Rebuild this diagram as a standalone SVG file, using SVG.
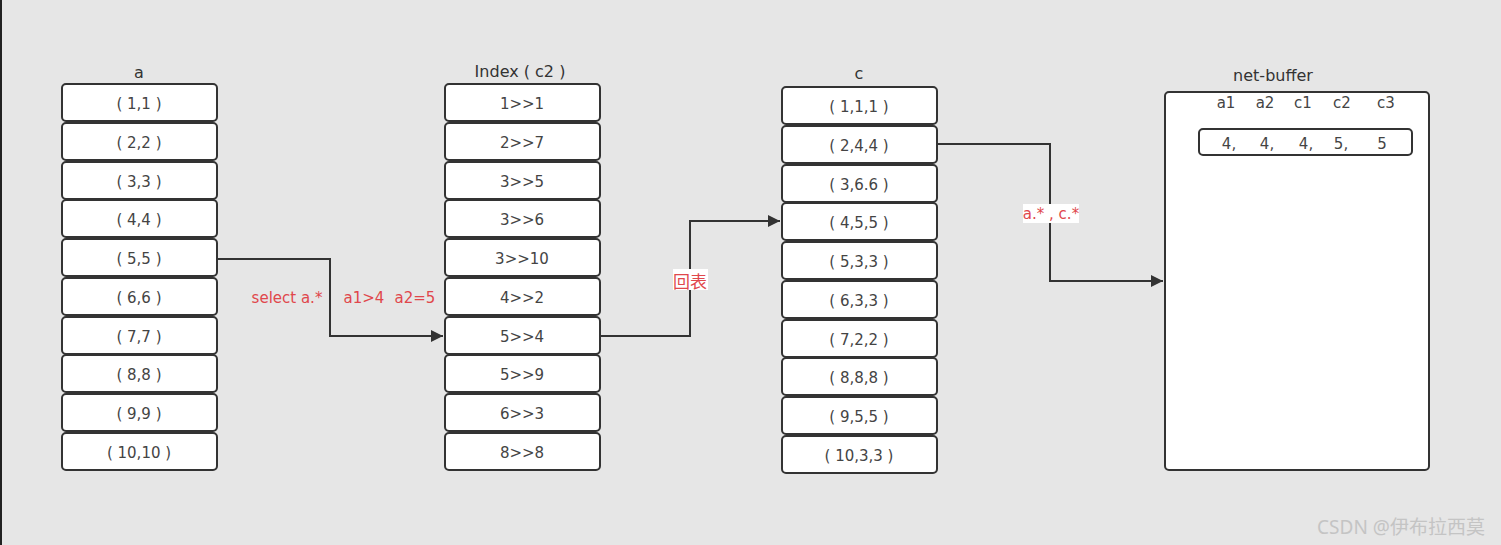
<svg xmlns="http://www.w3.org/2000/svg" width="1501" height="545" viewBox="0 0 1501 545">
<defs>
<style>
.bg{fill:#e6e6e6}
.box{fill:#fff;stroke:#333;stroke-width:2}
.t{font-family:"DejaVu Sans","Noto Sans",sans-serif;font-size:15px;fill:#444;text-anchor:middle;dominant-baseline:central;transform:translateY(1px)}
.ttl{font-family:"DejaVu Sans","Noto Sans",sans-serif;font-size:16px;fill:#333;text-anchor:middle;dominant-baseline:central}
.red{font-family:"DejaVu Sans","Noto Sans CJK SC",sans-serif;font-size:15px;fill:#e0474c;text-anchor:middle;dominant-baseline:central}
.cjk{font-family:"Noto Sans CJK SC",sans-serif;font-size:17px}
.line{fill:none;stroke:#333;stroke-width:2}
.lblbg{fill:#fff}
</style>
<marker id="arr" viewBox="0 0 10 10" refX="10" refY="5" markerWidth="18" markerHeight="12" markerUnits="userSpaceOnUse" orient="auto">
<path d="M0,0 L10,5 L0,10 z" fill="#333"/>
</marker>
</defs>
<rect class="bg" x="0" y="0" width="1501" height="545"/>
<rect x="0" y="0" width="2" height="545" fill="#222"/>

<g id="table-a">
<text class="ttl" x="139" y="72">a</text>
<rect class="box" x="62" y="84" width="155" height="37" rx="4"/><text class="t" x="139" y="103">( 1,1 )</text>
<rect class="box" x="62" y="123" width="155" height="37" rx="4"/><text class="t" x="139" y="142">( 2,2 )</text>
<rect class="box" x="62" y="162" width="155" height="37" rx="4"/><text class="t" x="139" y="181">( 3,3 )</text>
<rect class="box" x="62" y="200" width="155" height="37" rx="4"/><text class="t" x="139" y="219">( 4,4 )</text>
<rect class="box" x="62" y="239" width="155" height="37" rx="4"/><text class="t" x="139" y="258">( 5,5 )</text>
<rect class="box" x="62" y="278" width="155" height="37" rx="4"/><text class="t" x="139" y="297">( 6,6 )</text>
<rect class="box" x="62" y="317" width="155" height="37" rx="4"/><text class="t" x="139" y="336">( 7,7 )</text>
<rect class="box" x="62" y="355" width="155" height="37" rx="4"/><text class="t" x="139" y="374">( 8,8 )</text>
<rect class="box" x="62" y="394" width="155" height="37" rx="4"/><text class="t" x="139" y="413">( 9,9 )</text>
<rect class="box" x="62" y="433" width="155" height="37" rx="4"/><text class="t" x="139" y="452">( 10,10 )</text>
</g>

<g id="table-index">
<text class="ttl" x="520" y="71">Index ( c2 )</text>
<rect class="box" x="445" y="84" width="155" height="37" rx="4"/><text class="t" x="522" y="103">1&gt;&gt;1</text>
<rect class="box" x="445" y="123" width="155" height="37" rx="4"/><text class="t" x="522" y="142">2&gt;&gt;7</text>
<rect class="box" x="445" y="162" width="155" height="37" rx="4"/><text class="t" x="522" y="181">3&gt;&gt;5</text>
<rect class="box" x="445" y="200" width="155" height="37" rx="4"/><text class="t" x="522" y="219">3&gt;&gt;6</text>
<rect class="box" x="445" y="239" width="155" height="37" rx="4"/><text class="t" x="522" y="258">3&gt;&gt;10</text>
<rect class="box" x="445" y="278" width="155" height="37" rx="4"/><text class="t" x="522" y="297">4&gt;&gt;2</text>
<rect class="box" x="445" y="317" width="155" height="37" rx="4"/><text class="t" x="522" y="336">5&gt;&gt;4</text>
<rect class="box" x="445" y="355" width="155" height="37" rx="4"/><text class="t" x="522" y="374">5&gt;&gt;9</text>
<rect class="box" x="445" y="394" width="155" height="37" rx="4"/><text class="t" x="522" y="413">6&gt;&gt;3</text>
<rect class="box" x="445" y="433" width="155" height="37" rx="4"/><text class="t" x="522" y="452">8&gt;&gt;8</text>
</g>

<g id="table-c">
<text class="ttl" x="859" y="73">c</text>
<rect class="box" x="782" y="87" width="155" height="37" rx="4"/><text class="t" x="859" y="106">( 1,1,1 )</text>
<rect class="box" x="782" y="126" width="155" height="37" rx="4"/><text class="t" x="859" y="145">( 2,4,4 )</text>
<rect class="box" x="782" y="165" width="155" height="37" rx="4"/><text class="t" x="859" y="184">( 3,6.6 )</text>
<rect class="box" x="782" y="203" width="155" height="37" rx="4"/><text class="t" x="859" y="222">( 4,5,5 )</text>
<rect class="box" x="782" y="242" width="155" height="37" rx="4"/><text class="t" x="859" y="261">( 5,3,3 )</text>
<rect class="box" x="782" y="281" width="155" height="37" rx="4"/><text class="t" x="859" y="300">( 6,3,3 )</text>
<rect class="box" x="782" y="320" width="155" height="37" rx="4"/><text class="t" x="859" y="339">( 7,2,2 )</text>
<rect class="box" x="782" y="358" width="155" height="37" rx="4"/><text class="t" x="859" y="377">( 8,8,8 )</text>
<rect class="box" x="782" y="397" width="155" height="37" rx="4"/><text class="t" x="859" y="416">( 9,5,5 )</text>
<rect class="box" x="782" y="436" width="155" height="37" rx="4"/><text class="t" x="859" y="455">( 10,3,3 )</text>
</g>

<g id="net-buffer">
<text class="ttl" x="1273" y="75">net-buffer</text>
<rect class="box" x="1165" y="92" width="264" height="378" rx="4"/>
<text class="t" x="1226" y="102">a1</text>
<text class="t" x="1265" y="102">a2</text>
<text class="t" x="1303" y="102">c1</text>
<text class="t" x="1342" y="102">c2</text>
<text class="t" x="1386" y="102">c3</text>
<rect class="box" x="1199" y="129" width="213" height="26" rx="4"/>
<text class="t" x="1229" y="143">4,</text>
<text class="t" x="1267" y="143">4,</text>
<text class="t" x="1306" y="143">4,</text>
<text class="t" x="1341" y="143">5,</text>
<text class="t" x="1382" y="143">5</text>
</g>

<g id="connectors">
<path class="line" d="M217,259 H330 V336 H443" marker-end="url(#arr)"/>
<path class="line" d="M600,336 H690 V221 H780" marker-end="url(#arr)"/>
<path class="line" d="M937,144 H1050 V281 H1163" marker-end="url(#arr)"/>
<text class="red" x="287" y="298">select a.*</text>
<text class="red" x="364" y="298">a1&gt;4</text>
<text class="red" x="415" y="298">a2=5</text>
<rect class="lblbg" x="673" y="269" width="35" height="21"/>
<text class="red cjk" x="690" y="280">回表</text>
<rect class="lblbg" x="1023" y="204" width="56" height="19"/>
<text class="red" x="1051" y="214">a.* , c.*</text>
</g>

<text x="1401" y="527" font-family="Noto Sans, Noto Sans CJK SC, sans-serif" font-size="19" fill="#c4c4c4" text-anchor="middle" dominant-baseline="central">CSDN @伊布拉西莫</text>
</svg>
